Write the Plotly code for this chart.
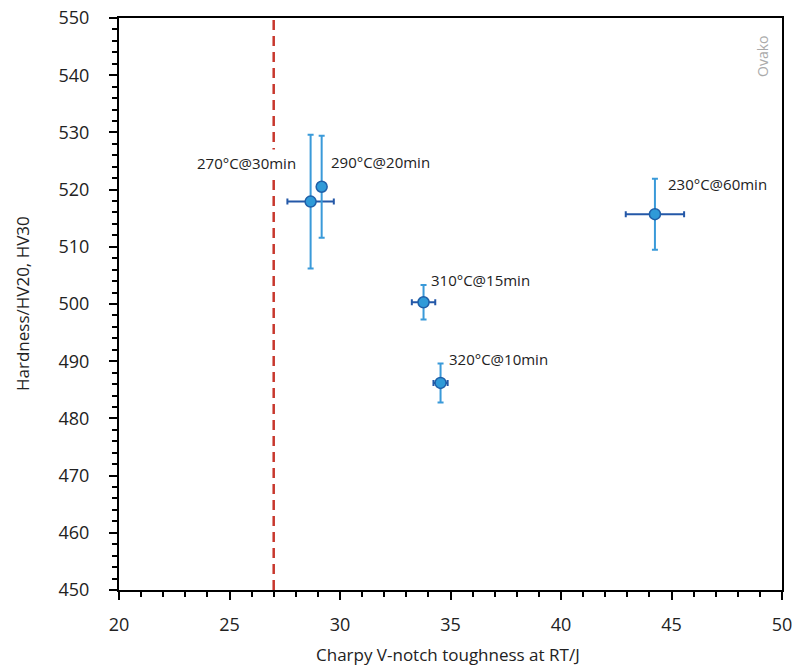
import plotly.graph_objects as go

labels = ["270°C@30min", "290°C@20min", "310°C@15min", "320°C@10min", "230°C@60min"]
toughness = [28.67, 29.17, 33.78, 34.55, 44.25]
toughness_err = [1.05, 0.0, 0.53, 0.32, 1.32]
hardness = [517.9, 520.5, 500.3, 486.2, 515.7]
hardness_err = [11.7, 8.9, 3.0, 3.4, 6.2]
limit_toughness = 27
label_shift = [(-11, 39, "right"), (7, 25, "left"), (5, 22, "left"), (6, 24, "left"), (11, 30, "left")]

FONT = "'Open Sans', sans-serif"
TXT = "#222222"

fig = go.Figure()
fig.add_trace(go.Scatter(
    x=toughness, y=hardness, mode="markers",
    marker=dict(size=11, color="#2f9ad8", line=dict(color="#1f5fa8", width=1.5)),
    error_x=dict(type="data", array=toughness_err, visible=True, color="#2458a8", thickness=2, width=3),
    error_y=dict(type="data", array=hardness_err, visible=True, color="#3a9ad9", thickness=2, width=3),
    showlegend=False, hoverinfo="skip",
))

fig.add_shape(type="line", x0=limit_toughness, x1=limit_toughness, y0=0, y1=1,
              xref="x", yref="paper", layer="below",
              line=dict(color="#c8372d", width=2.5, dash="10px,6px"))

for i, (lab, x, y, (dx, dy, anc)) in enumerate(zip(labels, toughness, hardness, label_shift)):
    fig.add_annotation(x=x, y=y, xref="x", yref="y", text=lab, showarrow=False,
                       xanchor=anc, yanchor="middle", xshift=dx, yshift=dy,
                       bgcolor="white" if i == 0 else None, borderpad=3 if i == 0 else 1,
                       font=dict(family=FONT, size=15, color=TXT))

fig.add_annotation(x=1, y=1, xref="paper", yref="paper", text="Ovako", showarrow=False,
                   textangle=-90, xanchor="right", yanchor="top", xshift=-8, yshift=-16,
                   font=dict(family=FONT, size=14, color="#aaaaaa"))

# axis titles
fig.add_annotation(x=0.5, y=0, xref="paper", yref="paper", text="Charpy V-notch toughness at RT/J",
                   showarrow=False, xanchor="center", yanchor="middle", yshift=-64, xshift=-3,
                   font=dict(family=FONT, size=17, color=TXT))
fig.add_annotation(x=0, y=0.5, xref="paper", yref="paper", text="Hardness/HV20, HV30",
                   showarrow=False, textangle=-90, xanchor="center", yanchor="middle", xshift=-97,
                   font=dict(family=FONT, size=17, color=TXT))

axis_common = dict(showgrid=False, zeroline=False, showline=True, linecolor="black", linewidth=2,
                   mirror=True, ticks="outside", ticklen=8, tickwidth=2, tickcolor="black",
                   automargin=False, ticklabeloverflow="allow",
                   tickfont=dict(family=FONT, size=18, color=TXT))

fig.update_xaxes(range=[20, 50], dtick=5, tick0=20, ticklabelstandoff=9,
                 minor=dict(ticks="outside", dtick=1, ticklen=5, tickwidth=2, tickcolor="black"),
                 **axis_common)
fig.update_yaxes(range=[450, 550], dtick=10, tick0=450, ticklabelstandoff=16,
                 minor=dict(ticks="outside", dtick=2, ticklen=5, tickwidth=2, tickcolor="black"),
                 **axis_common)

fig.update_layout(width=806, height=668, margin=dict(l=119, r=24, t=18, b=78),
                  plot_bgcolor="white", paper_bgcolor="white")

# remove the browser's default 8px body margin so the figure fills the window exactly
fig.write_html("out.html", config={"displayModeBar": False},
               post_script="document.body.style.margin='0px';")
